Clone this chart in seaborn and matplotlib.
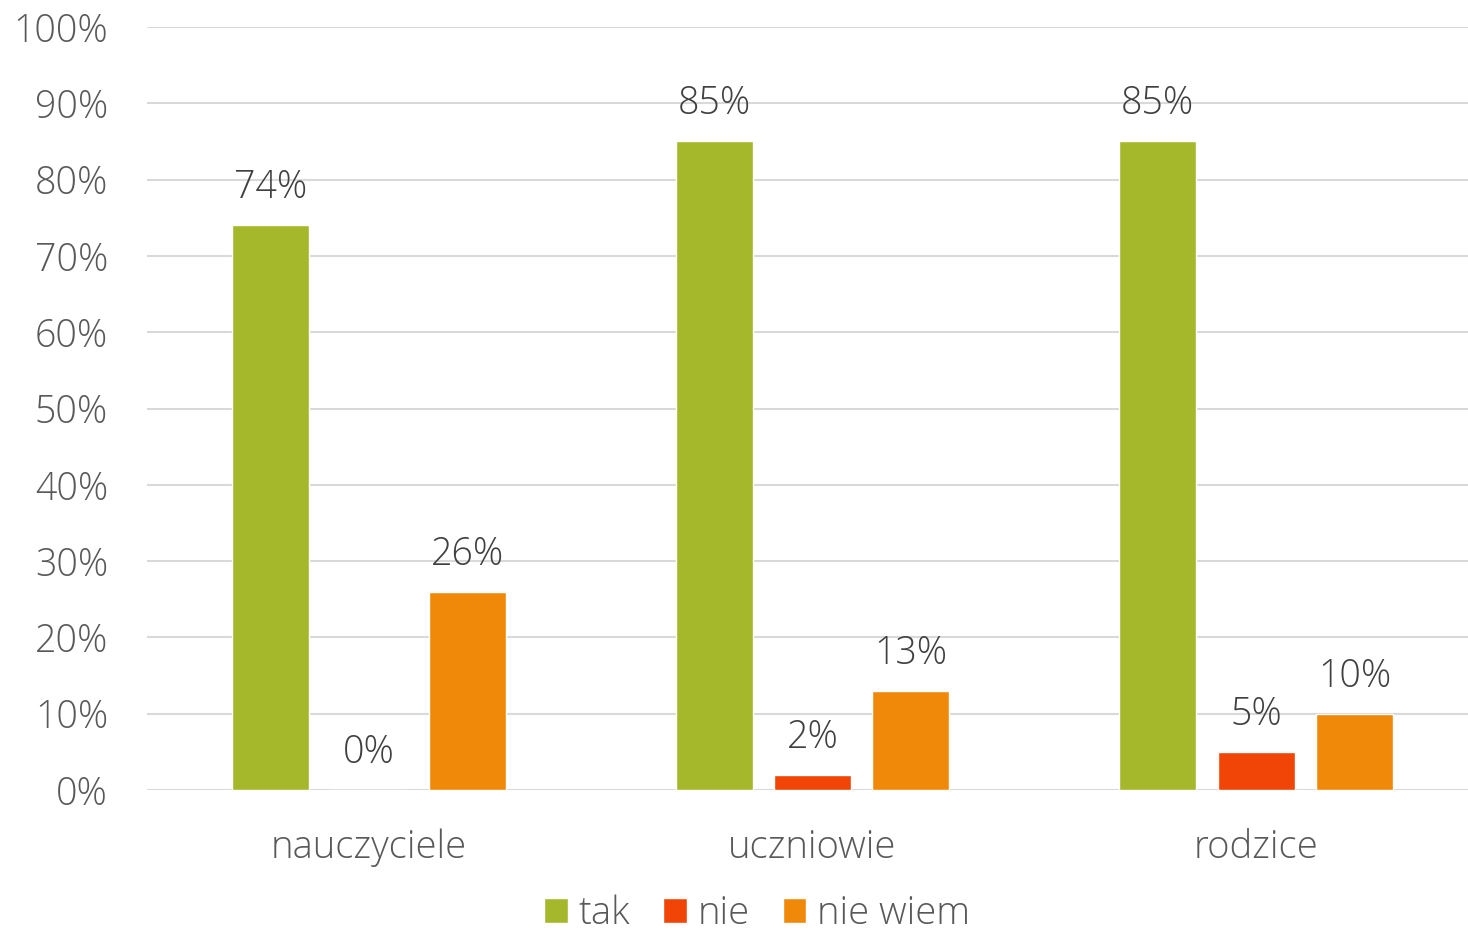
import pandas as pd
import numpy as np
import matplotlib
matplotlib.use("Agg")
import matplotlib.pyplot as plt
import seaborn as sns
from matplotlib.patches import Patch

# data
groups = ["nauczyciele", "uczniowie", "rodzice"]
answers = ["tak", "nie", "nie wiem"]
tak = [74, 85, 85]
nie = [0, 2, 5]
nie_wiem = [26, 13, 10]
colors = ["#A5B72A", "#F04506", "#F08909"]

df = pd.DataFrame({
    "group": groups * 3,
    "answer": [a for a in answers for _ in groups],
    "value": tak + nie + nie_wiem,
})

sns.set_theme(style="white")
plt.rcParams["font.family"] = ["Open Sans", "DejaVu Sans"]
plt.rcParams["font.weight"] = "light"

fig = plt.figure(figsize=(14.68, 9.36), dpi=100)
ax = fig.add_axes([147 / 1468, 1 - 790 / 936, 1331 / 1468, 763 / 936])

sns.barplot(data=df, x="group", y="value", hue="answer", order=groups,
            hue_order=answers, palette=colors, width=0.665, gap=0.22,
            saturation=1, legend=False, ax=ax)

ax.set_ylim(0, 100)
ax.set_xlim(-0.5, 2.5)
ax.set_yticks(np.arange(0, 101, 10))
ax.set_yticklabels([f"{v}%" for v in range(0, 101, 10)])
ax.yaxis.grid(True, color="#D9D9D9", linewidth=1.5)
ax.set_axisbelow(True)
for side in ax.spines.values():
    side.set_visible(False)
ax.tick_params(axis="y", length=0, pad=28, labelsize=27, labelcolor="#595959")
ax.tick_params(axis="x", length=0, pad=28, labelsize=27.5, labelcolor="#595959")
ax.set_xlabel("")
ax.set_ylabel("")

for cont in ax.containers:
    ax.bar_label(cont, labels=[f"{v:.0f}%" for v in cont.datavalues],
                 padding=13, fontsize=27, color="#404040")

handles = [Patch(facecolor=c, label=a) for a, c in zip(answers, colors)]
fig.legend(handles=handles, loc="center", bbox_to_anchor=(757 / 1468, 1 - 914 / 936),
           ncol=3, frameon=False, fontsize=27.5, handlelength=0.62, handleheight=0.62,
           handletextpad=0.28, columnspacing=0.87, labelcolor="#595959",
           borderpad=0.2)

fig.savefig("out.png", dpi=100)
